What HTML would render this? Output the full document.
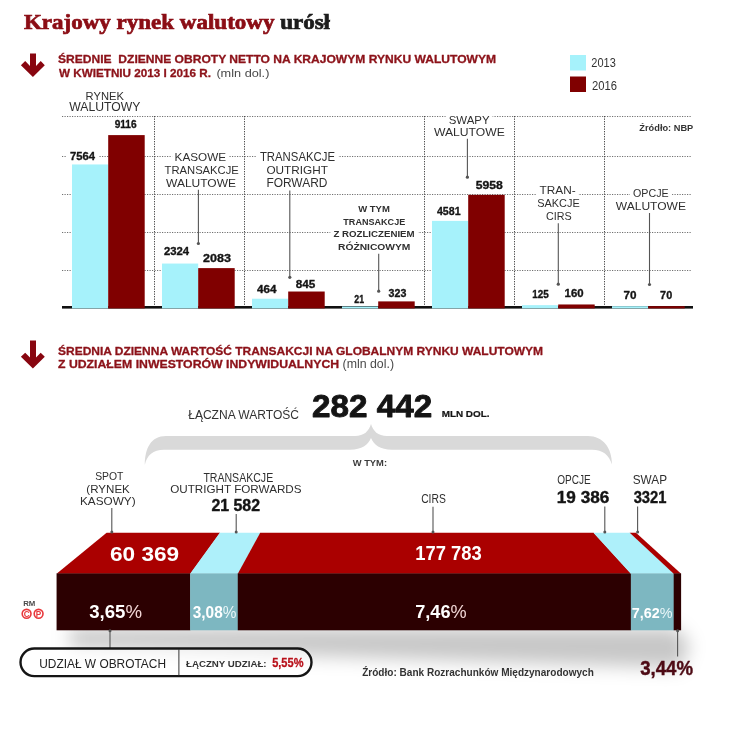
<!DOCTYPE html><html><head><meta charset="utf-8"><style>html,body{margin:0;padding:0;background:#fff;width:746px;height:750px;overflow:hidden}text{white-space:pre}</style></head><body><svg width="746" height="750" viewBox="0 0 746 750" style="display:block;white-space:pre;filter:blur(0.4px)"><polygon fill="#880610" points="30.0,53.4 36.0,53.4 36.0,65.9 40.7,61.1 44.8,65.2 32.9,77.0 20.9,65.2 25.2,61.1 30.0,65.9"/>
<polygon fill="#880610" points="30.0,340.4 36.0,340.4 36.0,357.5 40.7,352.7 44.8,356.8 32.9,368.6 20.9,356.8 25.2,352.7 30.0,357.5"/>
<rect x="570" y="55" width="16" height="15.5" fill="#a6f2fb"/>
<rect x="570" y="76.5" width="16" height="15.5" fill="#800000"/>
<g stroke="#707070" stroke-width="1" stroke-dasharray="1.2 1.3"><line x1="62" y1="116.5" x2="692" y2="116.5"/><line x1="62" y1="156.5" x2="692" y2="156.5"/><line x1="62" y1="194.5" x2="692" y2="194.5"/><line x1="62" y1="232.5" x2="692" y2="232.5"/><line x1="62" y1="270.5" x2="692" y2="270.5"/></g>
<g stroke="#4a4a4a" stroke-width="1" stroke-dasharray="1.3 1.2"><line x1="154.5" y1="116" x2="154.5" y2="307"/><line x1="244.5" y1="116" x2="244.5" y2="307"/><line x1="424.5" y1="116" x2="424.5" y2="307"/><line x1="514.5" y1="116" x2="514.5" y2="307"/><line x1="604.5" y1="116" x2="604.5" y2="307"/></g>
<rect x="62" y="306" width="631" height="2.6" fill="#111"/>
<rect x="72.0" y="164.45" width="36.2" height="143.95" fill="#a6f2fb"/>
<rect x="108.2" y="135.10" width="36.5" height="173.30" fill="#800000"/>
<rect x="162.0" y="263.55" width="36.2" height="44.85" fill="#a6f2fb"/>
<rect x="198.2" y="268.11" width="36.5" height="40.29" fill="#800000"/>
<rect x="252.0" y="298.72" width="36.2" height="9.68" fill="#a6f2fb"/>
<rect x="288.2" y="291.52" width="36.5" height="16.88" fill="#800000"/>
<rect x="342.0" y="306.50" width="36.2" height="1.90" fill="#a6f2fb"/>
<rect x="378.2" y="301.39" width="36.5" height="7.01" fill="#800000"/>
<rect x="432.0" y="220.87" width="36.2" height="87.53" fill="#a6f2fb"/>
<rect x="468.2" y="194.82" width="36.5" height="113.58" fill="#800000"/>
<rect x="522.0" y="305.14" width="36.2" height="3.26" fill="#a6f2fb"/>
<rect x="558.2" y="304.47" width="36.5" height="3.93" fill="#800000"/>
<rect x="612.0" y="306.18" width="36.2" height="2.22" fill="#a6f2fb"/>
<rect x="648.2" y="306.18" width="36.5" height="2.22" fill="#800000"/>
<rect x="172.1" y="151.4" width="56.9" height="12.0" fill="#fff"/>
<rect x="256.5" y="151.1" width="82.0" height="12.3" fill="#fff"/>
<rect x="330.4" y="229.2" width="87.7" height="10.0" fill="#fff"/>
<rect x="445.8" y="113.6" width="46.8" height="12.0" fill="#fff"/>
<rect x="536.6" y="184.0" width="42.0" height="12.0" fill="#fff"/>
<rect x="630.0" y="186.8" width="42.1" height="12.0" fill="#fff"/>
<rect x="67.0" y="149.6" width="32.0" height="12.1" fill="#fff"/>
<line x1="198.4" y1="189.8" x2="198.4" y2="243.5" stroke="#555" stroke-width="1.1"/>
<circle cx="198.4" cy="243.5" r="1.6" fill="#555"/>
<line x1="289.8" y1="190.5" x2="289.8" y2="277.3" stroke="#555" stroke-width="1.1"/>
<circle cx="289.8" cy="277.3" r="1.6" fill="#555"/>
<line x1="378.7" y1="253.7" x2="378.7" y2="291.2" stroke="#555" stroke-width="1.1"/>
<circle cx="378.7" cy="291.2" r="1.6" fill="#555"/>
<line x1="467.4" y1="138.8" x2="467.4" y2="177.2" stroke="#555" stroke-width="1.1"/>
<circle cx="467.4" cy="177.2" r="1.6" fill="#555"/>
<line x1="558.3" y1="223.3" x2="558.3" y2="284.2" stroke="#555" stroke-width="1.1"/>
<circle cx="558.3" cy="284.2" r="1.6" fill="#555"/>
<line x1="649.5" y1="213.0" x2="649.5" y2="284.5" stroke="#555" stroke-width="1.1"/>
<circle cx="649.5" cy="284.5" r="1.6" fill="#555"/>
<path fill="#d9d9d9" d="M144.8,465 C145,448 151,436 166,436 L355,436 C364,436 369,431 371,424 C373,431 378,436 387,436 L588,436 C603,436 612,448 612,464.5 C609,455 603,449.7 592,449.7 L392,449.7 C380,449.7 374,445 371,438 C368,445 362,449.7 350,449.7 L164,449.7 C153,449.7 147,455 144.8,465 Z"/>
<defs><filter id="blur" x="-20%" y="-50%" width="140%" height="250%"><feGaussianBlur stdDeviation="9"/></filter><linearGradient id="shg" x1="0" y1="0" x2="0" y2="1"><stop offset="0" stop-color="#000" stop-opacity="0.38"/><stop offset="1" stop-color="#000" stop-opacity="0"/></linearGradient></defs>
<g filter="url(#blur)"><polygon points="70,628 676,628 690,645 680,668 70,648" fill="#000" fill-opacity="0.22"/></g>
<polygon fill="#aa0000" points="106.60,532.70 220.10,532.70 190.41,573.80 56.57,573.80"/>
<rect fill="#2c0001" x="56.57" y="573.40" width="133.84" height="56.90"/>
<polygon fill="#aef0fa" points="219.80,532.70 260.50,532.70 238.07,573.80 190.11,573.80"/>
<rect fill="#7db7c1" x="190.11" y="573.40" width="47.96" height="56.90"/>
<polygon fill="#aa0000" points="260.20,532.70 593.70,532.70 631.15,573.80 237.77,573.80"/>
<rect fill="#2c0001" x="237.77" y="573.40" width="393.38" height="56.90"/>
<polygon fill="#aef0fa" points="593.40,532.70 630.00,532.70 673.98,573.80 630.85,573.80"/>
<rect fill="#7db7c1" x="630.85" y="573.40" width="43.12" height="56.90"/>
<polygon fill="#aa0000" points="629.70,532.70 636.00,532.70 681.11,573.80 673.68,573.80"/>
<rect fill="#2c0001" x="673.68" y="573.40" width="7.43" height="56.90"/>
<line x1="111.8" y1="508.0" x2="111.8" y2="532.5" stroke="#555" stroke-width="1.1"/>
<circle cx="111.8" cy="532.0" r="1.5" fill="#555"/>
<line x1="236.2" y1="514.0" x2="236.2" y2="532.6" stroke="#555" stroke-width="1.1"/>
<circle cx="236.2" cy="532.1" r="1.5" fill="#555"/>
<line x1="433.0" y1="506.8" x2="433.0" y2="532.4" stroke="#555" stroke-width="1.1"/>
<circle cx="433.0" cy="531.9" r="1.5" fill="#555"/>
<line x1="604.8" y1="506.5" x2="604.8" y2="532.5" stroke="#555" stroke-width="1.1"/>
<circle cx="604.8" cy="532.0" r="1.5" fill="#555"/>
<line x1="637.6" y1="506.5" x2="637.6" y2="532.5" stroke="#555" stroke-width="1.1"/>
<circle cx="637.6" cy="532.0" r="1.5" fill="#555"/>
<line x1="110.0" y1="630.0" x2="110.0" y2="648.0" stroke="#555" stroke-width="1.1"/>
<circle cx="110.0" cy="630.8" r="1.5" fill="#555"/>
<line x1="677.6" y1="630.0" x2="677.6" y2="656.6" stroke="#555" stroke-width="1.1"/>
<circle cx="677.6" cy="630.8" r="1.5" fill="#555"/>
<rect x="20.5" y="648.5" width="291" height="27.6" rx="13.8" fill="#fff" fill-opacity="0.6" stroke="#151515" stroke-width="2.4"/>
<line x1="178.9" y1="649" x2="178.9" y2="675.5" stroke="#333" stroke-width="1"/>
<circle cx="26.6" cy="613.8" r="4.4" fill="none" stroke="#e8383c" stroke-width="1.6"/>
<text x="26.6" y="616.6" font-size="8.2" font-weight="bold" fill="#e8383c" text-anchor="middle" font-family='"Liberation Sans", sans-serif'>C</text>
<circle cx="38.6" cy="613.8" r="4.4" fill="none" stroke="#e8383c" stroke-width="1.6"/>
<text x="38.6" y="616.6" font-size="8.2" font-weight="bold" fill="#e8383c" text-anchor="middle" font-family='"Liberation Sans", sans-serif'>P</text>
<text id="title" x="23.99" y="28.50" font-size="20.46" font-weight="bold" fill="#2f2f2f" font-family='"Liberation Serif", serif' textLength="306.01" lengthAdjust="spacingAndGlyphs"><tspan fill="#8b0d15" stroke="#8b0d15" stroke-width="0.70">Krajowy rynek walutowy </tspan><tspan fill="#1c1c1c" stroke="#1c1c1c" stroke-width="0.70">urósł</tspan></text>
<text id="h1a" x="58.00" y="63.40" font-size="10.90" font-weight="bold" fill="#8c1219" stroke="#8c1219" stroke-width="0.30" stroke-linejoin="round" font-family='"Liberation Sans", sans-serif' textLength="438.00" lengthAdjust="spacingAndGlyphs">ŚREDNIE  DZIENNE OBROTY NETTO NA KRAJOWYM RYNKU WALUTOWYM</text>
<text id="h1b" x="58.99" y="76.80" font-size="10.90" font-weight="bold" fill="#8c1219" stroke="#8c1219" stroke-width="0.30" stroke-linejoin="round" font-family='"Liberation Sans", sans-serif' textLength="152.01" lengthAdjust="spacingAndGlyphs">W KWIETNIU 2013 I 2016 R.</text>
<text id="h1c" x="216.40" y="76.90" font-size="11.63" font-weight="normal" fill="#4a4a4a" font-family='"Liberation Sans", sans-serif' textLength="53.00" lengthAdjust="spacingAndGlyphs">(mln dol.)</text>
<text id="lg13" x="591.37" y="67.40" font-size="13.23" font-weight="normal" fill="#333" font-family='"Liberation Sans", sans-serif' textLength="24.46" lengthAdjust="spacingAndGlyphs">2013</text>
<text id="lg16" x="592.00" y="89.90" font-size="12.94" font-weight="normal" fill="#333" font-family='"Liberation Sans", sans-serif' textLength="25.00" lengthAdjust="spacingAndGlyphs">2016</text>
<text id="c1a" x="85.58" y="99.70" font-size="11.63" font-weight="normal" fill="#2f2f2f" font-family='"Liberation Sans", sans-serif' textLength="38.30" lengthAdjust="spacingAndGlyphs">RYNEK</text>
<text id="c1b" x="69.34" y="110.70" font-size="12.06" font-weight="normal" fill="#2f2f2f" font-family='"Liberation Sans", sans-serif' textLength="71.06" lengthAdjust="spacingAndGlyphs">WALUTOWY</text>
<text id="c2a" x="174.58" y="161.40" font-size="11.63" font-weight="normal" fill="#2f2f2f" font-family='"Liberation Sans", sans-serif' textLength="51.42" lengthAdjust="spacingAndGlyphs">KASOWE</text>
<text id="c2b" x="164.60" y="174.20" font-size="11.77" font-weight="normal" fill="#2f2f2f" font-family='"Liberation Sans", sans-serif' textLength="74.21" lengthAdjust="spacingAndGlyphs">TRANSAKCJE</text>
<text id="c2c" x="166.00" y="186.90" font-size="11.63" font-weight="normal" fill="#2f2f2f" font-family='"Liberation Sans", sans-serif' textLength="70.00" lengthAdjust="spacingAndGlyphs">WALUTOWE</text>
<text id="c3a" x="259.92" y="161.40" font-size="12.06" font-weight="normal" fill="#2f2f2f" font-family='"Liberation Sans", sans-serif' textLength="75.08" lengthAdjust="spacingAndGlyphs">TRANSAKCJE</text>
<text id="c3b" x="266.38" y="174.20" font-size="11.77" font-weight="normal" fill="#2f2f2f" font-family='"Liberation Sans", sans-serif' textLength="61.48" lengthAdjust="spacingAndGlyphs">OUTRIGHT</text>
<text id="c3c" x="266.40" y="187.30" font-size="12.06" font-weight="normal" fill="#2f2f2f" font-family='"Liberation Sans", sans-serif' textLength="61.00" lengthAdjust="spacingAndGlyphs">FORWARD</text>
<text id="c4a" x="358.17" y="211.80" font-size="8.14" font-weight="bold" fill="#2f2f2f" font-family='"Liberation Sans", sans-serif' textLength="31.67" lengthAdjust="spacingAndGlyphs">W TYM</text>
<text id="c4b" x="343.35" y="225.20" font-size="8.72" font-weight="bold" fill="#2f2f2f" font-family='"Liberation Sans", sans-serif' textLength="61.89" lengthAdjust="spacingAndGlyphs">TRANSAKCJE</text>
<text id="c4c" x="333.40" y="237.20" font-size="8.72" font-weight="bold" fill="#2f2f2f" font-family='"Liberation Sans", sans-serif' textLength="81.22" lengthAdjust="spacingAndGlyphs">Z ROZLICZENIEM</text>
<text id="c4d" x="338.00" y="250.00" font-size="9.01" font-weight="bold" fill="#2f2f2f" font-family='"Liberation Sans", sans-serif' textLength="72.40" lengthAdjust="spacingAndGlyphs">RÓŻNICOWYM</text>
<text id="c5a" x="448.76" y="123.60" font-size="11.63" font-weight="normal" fill="#2f2f2f" font-family='"Liberation Sans", sans-serif' textLength="40.85" lengthAdjust="spacingAndGlyphs">SWAPY</text>
<text id="c5b" x="434.00" y="136.40" font-size="11.63" font-weight="normal" fill="#2f2f2f" font-family='"Liberation Sans", sans-serif' textLength="70.80" lengthAdjust="spacingAndGlyphs">WALUTOWE</text>
<text id="c6a" x="539.55" y="194.00" font-size="11.63" font-weight="normal" fill="#2f2f2f" font-family='"Liberation Sans", sans-serif' textLength="36.09" lengthAdjust="spacingAndGlyphs">TRAN-</text>
<text id="c6b" x="537.17" y="206.80" font-size="11.63" font-weight="normal" fill="#2f2f2f" font-family='"Liberation Sans", sans-serif' textLength="42.53" lengthAdjust="spacingAndGlyphs">SAKCJE</text>
<text id="c6c" x="545.92" y="220.40" font-size="11.63" font-weight="normal" fill="#2f2f2f" font-family='"Liberation Sans", sans-serif' textLength="25.75" lengthAdjust="spacingAndGlyphs">CIRS</text>
<text id="c7a" x="633.00" y="196.80" font-size="11.63" font-weight="normal" fill="#2f2f2f" font-family='"Liberation Sans", sans-serif' textLength="35.62" lengthAdjust="spacingAndGlyphs">OPCJE</text>
<text id="c7b" x="615.80" y="209.70" font-size="11.77" font-weight="normal" fill="#2f2f2f" font-family='"Liberation Sans", sans-serif' textLength="70.20" lengthAdjust="spacingAndGlyphs">WALUTOWE</text>
<text id="zr1" x="639.38" y="130.90" font-size="8.87" font-weight="bold" fill="#333" font-family='"Liberation Sans", sans-serif' textLength="53.84" lengthAdjust="spacingAndGlyphs">Źródło: NBP</text>
<text id="v1a" x="70.00" y="159.70" font-size="11.77" font-weight="bold" fill="#141414" stroke="#141414" stroke-width="0.35" stroke-linejoin="round" font-family='"Liberation Sans", sans-serif' textLength="25.04" lengthAdjust="spacingAndGlyphs">7564</text>
<text id="v1b" x="114.69" y="127.90" font-size="11.34" font-weight="bold" fill="#141414" stroke="#141414" stroke-width="0.35" stroke-linejoin="round" font-family='"Liberation Sans", sans-serif' textLength="21.93" lengthAdjust="spacingAndGlyphs">9116</text>
<text id="v2a" x="163.92" y="255.00" font-size="11.48" font-weight="bold" fill="#141414" stroke="#141414" stroke-width="0.35" stroke-linejoin="round" font-family='"Liberation Sans", sans-serif' textLength="25.15" lengthAdjust="spacingAndGlyphs">2324</text>
<text id="v2b" x="203.12" y="261.60" font-size="11.34" font-weight="bold" fill="#141414" stroke="#141414" stroke-width="0.35" stroke-linejoin="round" font-family='"Liberation Sans", sans-serif' textLength="27.88" lengthAdjust="spacingAndGlyphs">2083</text>
<text id="v3a" x="257.13" y="292.60" font-size="11.63" font-weight="bold" fill="#141414" stroke="#141414" stroke-width="0.35" stroke-linejoin="round" font-family='"Liberation Sans", sans-serif' textLength="19.46" lengthAdjust="spacingAndGlyphs">464</text>
<text id="v3b" x="295.78" y="287.80" font-size="11.77" font-weight="bold" fill="#141414" stroke="#141414" stroke-width="0.35" stroke-linejoin="round" font-family='"Liberation Sans", sans-serif' textLength="19.61" lengthAdjust="spacingAndGlyphs">845</text>
<text id="v4a" x="354.28" y="302.60" font-size="11.19" font-weight="bold" fill="#141414" stroke="#141414" stroke-width="0.35" stroke-linejoin="round" font-family='"Liberation Sans", sans-serif' textLength="9.78" lengthAdjust="spacingAndGlyphs">21</text>
<text id="v4b" x="388.61" y="296.60" font-size="10.76" font-weight="bold" fill="#141414" stroke="#141414" stroke-width="0.35" stroke-linejoin="round" font-family='"Liberation Sans", sans-serif' textLength="17.71" lengthAdjust="spacingAndGlyphs">323</text>
<text id="v5a" x="436.95" y="214.80" font-size="11.63" font-weight="bold" fill="#141414" stroke="#141414" stroke-width="0.35" stroke-linejoin="round" font-family='"Liberation Sans", sans-serif' textLength="23.60" lengthAdjust="spacingAndGlyphs">4581</text>
<text id="v5b" x="475.75" y="189.20" font-size="10.90" font-weight="bold" fill="#141414" stroke="#141414" stroke-width="0.35" stroke-linejoin="round" font-family='"Liberation Sans", sans-serif' textLength="27.12" lengthAdjust="spacingAndGlyphs">5958</text>
<text id="v6a" x="532.15" y="297.50" font-size="11.19" font-weight="bold" fill="#141414" stroke="#141414" stroke-width="0.35" stroke-linejoin="round" font-family='"Liberation Sans", sans-serif' textLength="16.52" lengthAdjust="spacingAndGlyphs">125</text>
<text id="v6b" x="564.62" y="296.80" font-size="11.19" font-weight="bold" fill="#141414" stroke="#141414" stroke-width="0.35" stroke-linejoin="round" font-family='"Liberation Sans", sans-serif' textLength="18.99" lengthAdjust="spacingAndGlyphs">160</text>
<text id="v7a" x="623.56" y="299.20" font-size="11.77" font-weight="bold" fill="#141414" stroke="#141414" stroke-width="0.35" stroke-linejoin="round" font-family='"Liberation Sans", sans-serif' textLength="13.01" lengthAdjust="spacingAndGlyphs">70</text>
<text id="v7b" x="660.11" y="298.50" font-size="11.77" font-weight="bold" fill="#141414" stroke="#141414" stroke-width="0.35" stroke-linejoin="round" font-family='"Liberation Sans", sans-serif' textLength="12.08" lengthAdjust="spacingAndGlyphs">70</text>
<text id="h2a" x="58.00" y="355.00" font-size="11.19" font-weight="bold" fill="#8c1219" stroke="#8c1219" stroke-width="0.30" stroke-linejoin="round" font-family='"Liberation Sans", sans-serif' textLength="485.00" lengthAdjust="spacingAndGlyphs">ŚREDNIA DZIENNA WARTOŚĆ TRANSAKCJI NA GLOBALNYM RYNKU WALUTOWYM</text>
<text id="h2b" x="58.00" y="368.20" font-size="11.19" font-weight="bold" fill="#8c1219" stroke="#8c1219" stroke-width="0.30" stroke-linejoin="round" font-family='"Liberation Sans", sans-serif' textLength="281.10" lengthAdjust="spacingAndGlyphs">Z UDZIAŁEM INWESTORÓW INDYWIDUALNYCH</text>
<text id="h2c" x="342.55" y="368.20" font-size="12.06" font-weight="normal" fill="#4a4a4a" font-family='"Liberation Sans", sans-serif' textLength="51.49" lengthAdjust="spacingAndGlyphs">(mln dol.)</text>
<text id="lw" x="188.20" y="418.90" font-size="12.50" font-weight="normal" fill="#333" font-family='"Liberation Sans", sans-serif' textLength="110.80" lengthAdjust="spacingAndGlyphs">ŁĄCZNA WARTOŚĆ</text>
<text id="big" x="312.00" y="417.20" font-size="31.98" font-weight="bold" fill="#141414" stroke="#141414" stroke-width="0.90" stroke-linejoin="round" font-family='"Liberation Sans", sans-serif' textLength="120.11" lengthAdjust="spacingAndGlyphs">282 442</text>
<text id="mln" x="441.65" y="416.60" font-size="8.87" font-weight="bold" fill="#141414" stroke="#141414" stroke-width="0.20" stroke-linejoin="round" font-family='"Liberation Sans", sans-serif' textLength="47.92" lengthAdjust="spacingAndGlyphs">MLN DOL.</text>
<text id="wtym" x="352.73" y="466.00" font-size="9.30" font-weight="bold" fill="#3c3c3c" font-family='"Liberation Sans", sans-serif' textLength="34.27" lengthAdjust="spacingAndGlyphs">W TYM:</text>
<text id="s1a" x="95.15" y="480.30" font-size="11.77" font-weight="normal" fill="#2f2f2f" font-family='"Liberation Sans", sans-serif' textLength="28.27" lengthAdjust="spacingAndGlyphs">SPOT</text>
<text id="s1b" x="86.37" y="492.60" font-size="11.77" font-weight="normal" fill="#2f2f2f" font-family='"Liberation Sans", sans-serif' textLength="43.46" lengthAdjust="spacingAndGlyphs">(RYNEK</text>
<text id="s1c" x="80.00" y="505.20" font-size="11.63" font-weight="normal" fill="#2f2f2f" font-family='"Liberation Sans", sans-serif' textLength="55.61" lengthAdjust="spacingAndGlyphs">KASOWY)</text>
<text id="s2a" x="203.38" y="481.70" font-size="12.35" font-weight="normal" fill="#2f2f2f" font-family='"Liberation Sans", sans-serif' textLength="69.82" lengthAdjust="spacingAndGlyphs">TRANSAKCJE</text>
<text id="s2b" x="170.20" y="493.30" font-size="11.48" font-weight="normal" fill="#2f2f2f" font-family='"Liberation Sans", sans-serif' textLength="131.41" lengthAdjust="spacingAndGlyphs">OUTRIGHT FORWARDS</text>
<text id="s2v" x="211.42" y="510.70" font-size="16.57" font-weight="bold" fill="#141414" stroke="#141414" stroke-width="0.40" stroke-linejoin="round" font-family='"Liberation Sans", sans-serif' textLength="48.66" lengthAdjust="spacingAndGlyphs">21 582</text>
<text id="s3a" x="421.14" y="502.50" font-size="11.92" font-weight="normal" fill="#2f2f2f" font-family='"Liberation Sans", sans-serif' textLength="24.73" lengthAdjust="spacingAndGlyphs">CIRS</text>
<text id="s4a" x="557.15" y="484.00" font-size="11.92" font-weight="normal" fill="#2f2f2f" font-family='"Liberation Sans", sans-serif' textLength="33.47" lengthAdjust="spacingAndGlyphs">OPCJE</text>
<text id="s4v" x="556.75" y="503.30" font-size="17.15" font-weight="bold" fill="#141414" stroke="#141414" stroke-width="0.40" stroke-linejoin="round" font-family='"Liberation Sans", sans-serif' textLength="52.58" lengthAdjust="spacingAndGlyphs">19 386</text>
<text id="s5a" x="632.75" y="484.00" font-size="11.92" font-weight="normal" fill="#2f2f2f" font-family='"Liberation Sans", sans-serif' textLength="34.25" lengthAdjust="spacingAndGlyphs">SWAP</text>
<text id="s5v" x="633.68" y="503.30" font-size="17.15" font-weight="bold" fill="#141414" stroke="#141414" stroke-width="0.40" stroke-linejoin="round" font-family='"Liberation Sans", sans-serif' textLength="32.80" lengthAdjust="spacingAndGlyphs">3321</text>
<text id="b1" x="110.00" y="560.80" font-size="20.64" font-weight="bold" fill="#fff" font-family='"Liberation Sans", sans-serif' textLength="69.20" lengthAdjust="spacingAndGlyphs">60 369</text>
<text id="b3" x="415.34" y="560.10" font-size="20.20" font-weight="bold" fill="#fff" font-family='"Liberation Sans", sans-serif' textLength="66.46" lengthAdjust="spacingAndGlyphs">177 783</text>
<text id="p1" x="89.17" y="617.50" font-size="18.75" font-weight="bold" fill="#2f2f2f" font-family='"Liberation Sans", sans-serif' textLength="52.85" lengthAdjust="spacingAndGlyphs"><tspan fill="#fff">3,65</tspan><tspan fill="#f2d6d6" font-weight="normal">%</tspan></text>
<text id="p2" x="192.79" y="618.20" font-size="15.70" font-weight="bold" fill="#2f2f2f" font-family='"Liberation Sans", sans-serif' textLength="43.66" lengthAdjust="spacingAndGlyphs"><tspan fill="#fff">3,08</tspan><tspan fill="#eaf6f8" font-weight="normal">%</tspan></text>
<text id="p3" x="415.17" y="618.40" font-size="18.75" font-weight="bold" fill="#2f2f2f" font-family='"Liberation Sans", sans-serif' textLength="51.47" lengthAdjust="spacingAndGlyphs"><tspan fill="#fff">7,46</tspan><tspan fill="#f2d6d6" font-weight="normal">%</tspan></text>
<text id="p4" x="631.73" y="617.60" font-size="15.26" font-weight="bold" fill="#2f2f2f" font-family='"Liberation Sans", sans-serif' textLength="40.66" lengthAdjust="spacingAndGlyphs"><tspan fill="#fff">7,62</tspan><tspan fill="#eaf6f8" font-weight="normal">%</tspan></text>
<text id="p5" x="640.19" y="674.90" font-size="19.77" font-weight="bold" fill="#2f2f2f" font-family='"Liberation Sans", sans-serif' textLength="52.89" lengthAdjust="spacingAndGlyphs"><tspan fill="#4d0a14" stroke="#4d0a14" stroke-width="0.40">3,44</tspan><tspan fill="#4d0a14" stroke="#4d0a14" stroke-width="0.40">%</tspan></text>
<text id="rm" x="23.15" y="606.00" font-size="6.40" font-weight="bold" fill="#4a4a4a" font-family='"Liberation Sans", sans-serif' textLength="12.17" lengthAdjust="spacingAndGlyphs">RM</text>
<text id="ud" x="39.20" y="668.00" font-size="12.94" font-weight="normal" fill="#222" font-family='"Liberation Sans", sans-serif' textLength="126.80" lengthAdjust="spacingAndGlyphs">UDZIAŁ W OBROTACH</text>
<text id="lu" x="186.00" y="666.90" font-size="9.30" font-weight="bold" fill="#333" font-family='"Liberation Sans", sans-serif' textLength="80.60" lengthAdjust="spacingAndGlyphs">ŁĄCZNY UDZIAŁ:</text>
<text id="p55" x="272.18" y="666.90" font-size="11.92" font-weight="bold" fill="#b8101a" stroke="#b8101a" stroke-width="0.30" stroke-linejoin="round" font-family='"Liberation Sans", sans-serif' textLength="31.26" lengthAdjust="spacingAndGlyphs">5,55%</text>
<text id="zr2" x="362.20" y="676.20" font-size="10.32" font-weight="bold" fill="#333" font-family='"Liberation Sans", sans-serif' textLength="231.60" lengthAdjust="spacingAndGlyphs">Źródło: Bank Rozrachunków Międzynarodowych</text></svg></body></html>
